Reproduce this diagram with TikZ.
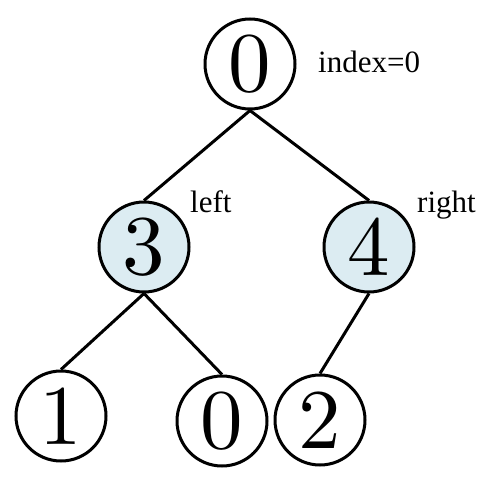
\documentclass[tikz,border=0pt]{standalone}
\usepackage{fontspec}
\newfontfamily\labelfont{Liberation Serif}
\newfontfamily\digitfont{lmroman10-regular}[Extension=.otf]
\usetikzlibrary{positioning}

\tikzset{
	heapnode/.style={circle, draw, line width=3pt, minimum size=90pt, inner sep=0pt, font=\digitfont\fontsize{85}{85}\selectfont},
	marked/.style={heapnode, fill=markblue},
	tag/.style={anchor=base west, inner sep=0pt, font=\labelfont\fontsize{31}{31}\selectfont},
}
\definecolor{markblue}{RGB}{220,236,242}

\begin{document}
\begin{tikzpicture}[x=1pt, y=-1pt]
	\useasboundingbox (0,0) rectangle (495,497);
	% tree
	\node[heapnode] (root) at (250,64) {0};
	\node[marked] (left) at (144,247) {3};
	\node[marked] (right) at (369,247) {4};
	\node[heapnode] (ll) at (61,416) {1};
	\node[heapnode] (lr) at (222,421) {0};
	\node[heapnode] (rl) at (320,420) {2};
	\draw[line width=3pt] (root.south) -- (left.north);
	\draw[line width=3pt] (root.south) -- (right.north);
	\draw[line width=3pt] (left.south) -- (ll.north);
	\draw[line width=3pt] (left.south) -- (lr.north);
	\draw[line width=3pt] (right.south) -- (rl.north);
	% labels
	\node[tag] (idx) at (318,73) {index=0};
	\node[tag] (lefttag) at (190,212) {left};
	\node[tag] (righttag) at (417,212) {right};
\end{tikzpicture}
\end{document}
